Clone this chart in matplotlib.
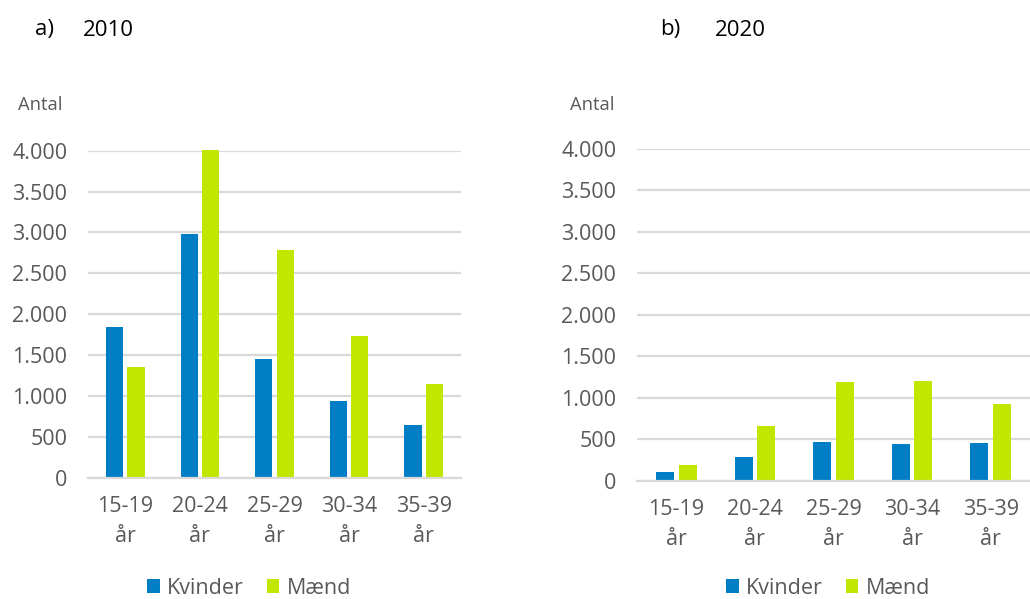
import matplotlib
matplotlib.use("Agg")
import matplotlib.pyplot as plt
from matplotlib.ticker import FuncFormatter
import numpy as np

categories = ["15-19\når", "20-24\når", "25-29\når", "30-34\når", "35-39\når"]
kvinder_2010 = [1843, 2977, 1452, 942, 641]
maend_2010 = [1358, 4010, 2789, 1733, 1150]
kvinder_2020 = [105, 289, 467, 446, 458]
maend_2020 = [189, 656, 1187, 1206, 925]
yticks = [0, 500, 1000, 1500, 2000, 2500, 3000, 3500, 4000]
series_names = ["Kvinder", "Mænd"]

BLUE = "#007EC5"
GREEN = "#C1E700"
GRID = "#D9D9D9"
TXT = "#595959"
FONT = "Open Sans"
FS = 15.5

plt.rcParams["font.family"] = [FONT, "DejaVu Sans"]

fig = plt.figure(figsize=(10.30, 5.99), dpi=100)

def fmt(v, pos):
    return f"{int(v):,}".replace(",", ".")

def panel(rect, kv, ma, letter, year, letter_x, year_x, antal_x, leg_x):
    ax = fig.add_axes(rect)
    x = np.arange(len(categories))
    w = 0.23
    off = 0.143
    ax.bar(x - off, kv, w, color=BLUE, label=series_names[0], zorder=3, clip_on=False)
    ax.bar(x + off, ma, w, color=GREEN, label=series_names[1], zorder=3, clip_on=False)
    ax.set_xlim(-0.5, len(categories) - 0.5)
    ax.set_ylim(0, 4000)
    ax.set_yticks(yticks)
    ax.yaxis.set_major_formatter(FuncFormatter(fmt))
    ax.set_xticks(x)
    ax.set_xticklabels(categories, linespacing=1.6)
    ax.grid(axis="y", color=GRID, linewidth=1.6, zorder=0)
    ax.set_axisbelow(True)
    for s in ["top", "right", "left"]:
        ax.spines[s].set_visible(False)
    ax.spines["bottom"].set_color(GRID)
    ax.spines["bottom"].set_linewidth(1.6)
    ax.spines["bottom"].set_zorder(4)
    ax.tick_params(axis="both", length=0, colors=TXT, labelsize=FS)
    ax.tick_params(axis="y", pad=15)
    ax.tick_params(axis="x", pad=13)
    fig.text(letter_x / 1030, 1 - 30 / 599, letter, fontsize=16, color="black", va="center", ha="left")
    fig.text(year_x / 1030, 1 - 30 / 599, year, fontsize=16, color="black", va="center", ha="left")
    fig.text(antal_x / 1030, 1 - 105 / 599, "Antal", fontsize=13.2, color=TXT, va="center", ha="left")
    handles, labels = ax.get_legend_handles_labels()
    fig.legend(handles, labels, loc="center", bbox_to_anchor=(leg_x / 1030, 1 - 588 / 599),
               ncol=2, frameon=False, fontsize=FS, labelcolor=TXT,
               handlelength=0.6, handleheight=0.6, handletextpad=0.33,
               columnspacing=1.05, borderaxespad=0, borderpad=0)
    return ax

panel([88 / 1030, 1 - 477.7 / 599, 373 / 1030, (477.7 - 150.7) / 599],
      kvinder_2010, maend_2010, "a)", "2010", 35, 83, 18, 249)
panel([637 / 1030, 1 - 480.7 / 599, 393 / 1030, (480.7 - 149) / 599],
      kvinder_2020, maend_2020, "b)", "2020", 660, 715, 570, 828)

fig.savefig("out.png", dpi=100)
